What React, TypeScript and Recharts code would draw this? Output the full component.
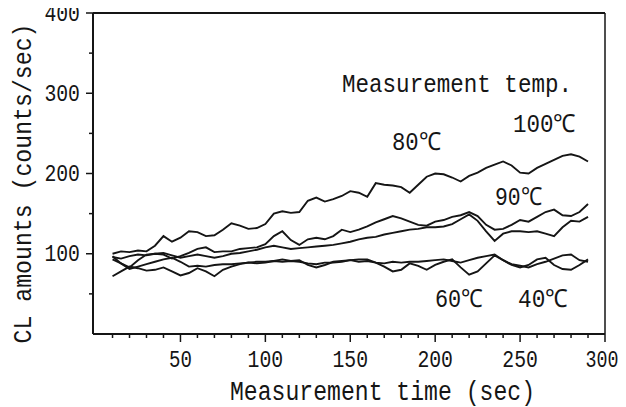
import React from 'react';
import {Label, Line, LineChart, ReferenceLine, XAxis, YAxis} from 'recharts';

// sampled every 5 sec
const times = [10, 15, 20, 25, 30, 35, 40, 45, 50, 55, 60, 65, 70, 75, 80, 85, 90, 95, 100, 105, 110, 115, 120, 125, 130, 135, 140, 145, 150, 155, 160, 165, 170, 175, 180, 185, 190, 195, 200, 205, 210, 215, 220, 225, 230, 235, 240, 245, 250, 255, 260, 265, 270, 275, 280, 285, 290];

const temp100 = [100, 103, 102, 104, 103, 110, 122, 115, 120, 128, 127, 122, 123, 130, 138, 135, 131, 132, 137, 150, 153, 151, 152, 166, 170, 165, 168, 172, 178, 176, 171, 188, 186, 185, 183, 176, 186, 196, 200, 199, 195, 190, 197, 201, 207, 211, 215, 210, 201, 200, 207, 212, 217, 222, 224, 221, 215];
const temp90 = [96, 94, 97, 99, 98, 100, 99, 94, 97, 101, 106, 108, 102, 103, 103, 106, 107, 108, 112, 122, 128, 117, 111, 118, 120, 118, 122, 130, 127, 130, 134, 139, 143, 147, 144, 140, 136, 135, 140, 142, 146, 148, 152, 147, 136, 130, 131, 136, 142, 140, 146, 152, 155, 148, 147, 152, 162];
const temp80 = [93, 88, 83, 92, 99, 100, 101, 98, 95, 97, 99, 97, 95, 97, 100, 101, 103, 105, 108, 110, 108, 106, 107, 108, 109, 110, 111, 113, 115, 118, 120, 121, 124, 126, 128, 130, 131, 133, 133, 134, 137, 143, 149, 141, 128, 116, 125, 128, 128, 127, 128, 125, 122, 133, 141, 140, 146];
const temp60 = [97, 88, 81, 84, 87, 90, 93, 95, 90, 84, 85, 84, 86, 87, 87, 88, 89, 90, 90, 91, 90, 91, 90, 88, 87, 89, 89, 90, 92, 90, 91, 89, 88, 90, 89, 90, 90, 91, 92, 93, 91, 89, 92, 95, 97, 99, 92, 87, 85, 83, 87, 90, 94, 98, 99, 92, 90];
const temp40 = [72, 78, 84, 82, 79, 80, 83, 78, 73, 76, 82, 78, 72, 80, 84, 87, 89, 88, 89, 91, 93, 91, 92, 86, 83, 86, 90, 91, 92, 93, 93, 89, 84, 78, 80, 88, 85, 80, 86, 90, 93, 83, 74, 78, 88, 98, 92, 86, 83, 86, 93, 95, 86, 81, 80, 86, 93];

const xTicks = [10, 20, 30, 40, 50, 60, 70, 80, 90, 100, 110, 120, 130, 140, 150, 160, 170, 180, 190, 200, 210, 220, 230, 240, 250, 260, 270, 280, 290, 300];
const yTicks = [50, 100, 150, 200, 250, 300, 350, 400];

const data = times.map((t, i) => ({
	t,
	t100: temp100[i],
	t90: temp90[i],
	t80: temp80[i],
	t60: temp60[i],
	t40: temp40[i],
}));

const FONT = '"Liberation Mono", monospace';
const INK = '#151515';

const XTick = (props: any) => {
	const {x, y, payload} = props;
	const major = payload.value % 50 === 0;
	const label = String(payload.value);
	// last label sits right at the page edge, nudge it in a little
	const last = payload.value === 300;
	const w = last ? 33 : label.length * 12.7 - 2.5;
	return <g>
		<line x1={x} x2={x} y1={y} y2={y + (major ? 8 : 4)} stroke={INK} strokeWidth={1.5}/>
		{major && <text x={last ? x - 3 : x} y={y + 33} textAnchor="middle" fontFamily={FONT} fontSize={24} fill={INK}
			textLength={w} lengthAdjust="spacingAndGlyphs">{label}</text>}
	</g>;
};

const YTick = (props: any) => {
	const {x, y, payload} = props;
	const major = payload.value % 100 === 0;
	const label = String(payload.value);
	return <g>
		<line x1={x} x2={x - (major ? 7 : 4)} y1={y} y2={y} stroke={INK} strokeWidth={1.5}/>
		{major && <text x={x - 13} y={y + 7.5} textAnchor="end" fontFamily={FONT} fontSize={24} fill={INK}
			textLength={label.length * 12.7 - 2.5} lengthAdjust="spacingAndGlyphs">{label}</text>}
	</g>;
};

const YTitle = (props: any) => {
	const {viewBox} = props;
	const cy = viewBox.y + viewBox.height / 2 + 10;
	return <text transform={`translate(31, ${cy}) rotate(-90)`} textAnchor="middle" fontFamily={FONT} fontSize={26}
		fill={INK} textLength={320} lengthAdjust="spacingAndGlyphs">CL amounts (counts/sec)</text>;
};

const Note = ({x, y, w, size, children}: any) =>
	<text x={x} y={y} fontFamily={FONT} fontSize={size} fill={INK} textLength={w} lengthAdjust="spacingAndGlyphs">{children}</text>;

export default function App() {
	const series = ['t100', 't90', 't80', 't60', 't40'];
	// cancel the body margin so the chart covers the whole page
	return <div style={{position: 'relative', width: 626, height: 407, marginLeft: -8, marginTop: -8}}>
		<LineChart width={626} height={407} data={data} margin={{top: 13, right: 21, left: 0, bottom: 0}}>
			<XAxis dataKey="t" type="number" domain={[-1.5, 300]} ticks={xTicks} height={73}
				axisLine={{stroke: INK, strokeWidth: 2}} tickLine={false} tickSize={0} tickMargin={0}
				tick={<XTick/>} interval={0} allowDataOverflow/>
			<YAxis type="number" domain={[0, 400]} ticks={yTicks} width={93}
				axisLine={{stroke: INK, strokeWidth: 2}} tickLine={false} tickSize={0} tickMargin={0}
				tick={<YTick/>} interval={0}>
				<Label content={<YTitle/>}/>
			</YAxis>
			<ReferenceLine y={400} stroke={INK} strokeWidth={2}/>
			<ReferenceLine x={300} stroke={INK} strokeWidth={1.5}/>
			{series.map(k => <Line key={k} dataKey={k} type="linear" stroke={INK} strokeWidth={1.9}
				dot={false} isAnimationActive={false}/>)}
		</LineChart>
		<svg width={626} height={407} style={{position: 'absolute', left: 0, top: 0, pointerEvents: 'none'}}>
			<Note x={342} y={92} w={230} size={25}>Measurement temp.</Note>
			<Note x={513} y={132} w={63} size={25}>100℃</Note>
			<Note x={392} y={150} w={49} size={25}>80℃</Note>
			<Note x={495} y={205} w={47} size={25}>90℃</Note>
			<Note x={435} y={307} w={48} size={25}>60℃</Note>
			<Note x={518} y={307} w={50} size={25}>40℃</Note>
			<Note x={230} y={400} w={305} size={27}>Measurement time (sec)</Note>
		</svg>
	</div>;
}
